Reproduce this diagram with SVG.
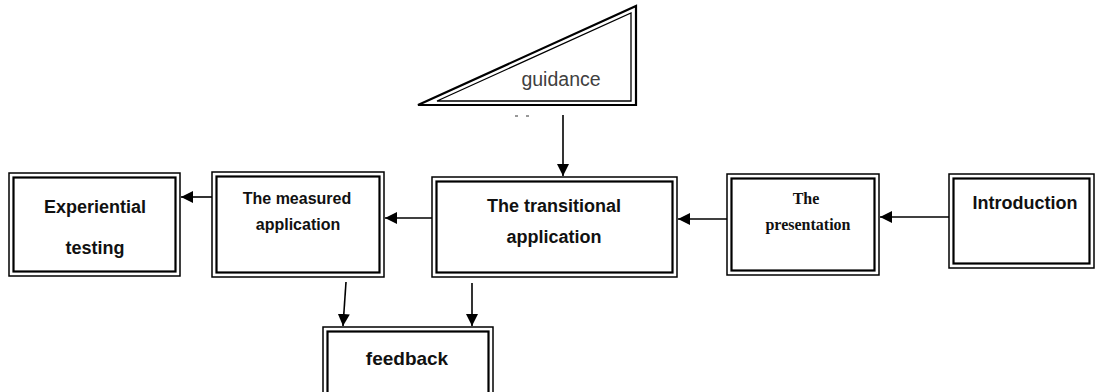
<svg xmlns="http://www.w3.org/2000/svg" width="1096" height="392" viewBox="0 0 1096 392">
  <style>
    .outer { fill: none; stroke: #000; stroke-width: 1.5; }
    .inner { fill: none; stroke: #000; stroke-width: 2.2; }
    .tri-outer { fill: none; stroke: #000; stroke-width: 2.2; stroke-linejoin: miter; }
    .tri-inner { fill: none; stroke: #000; stroke-width: 1.3; stroke-linejoin: miter; }
    .label { font-family: "Liberation Sans", Arial, sans-serif; font-weight: bold; fill: #111; text-anchor: middle; }
    .serif { font-family: "Liberation Serif", "Times New Roman", serif; font-weight: bold; fill: #111; text-anchor: middle; }
    .plain { font-family: "Liberation Sans", Arial, sans-serif; fill: #404040; text-anchor: middle; }
    .conn { stroke: #000; stroke-width: 1.6; fill: none; marker-end: url(#arrow); }
  </style>
  <defs>
    <marker id="arrow" markerUnits="userSpaceOnUse" markerWidth="14" markerHeight="12" refX="12" refY="6" orient="auto">
      <path d="M0,0 L12,6 L0,12 Z" fill="#000"/>
    </marker>
  </defs>
  <rect width="1096" height="392" fill="#fff"/>

  <!-- guidance wedge -->
  <g id="guidance">
    <polygon class="tri-outer" points="418,105 636,6 636,105"/>
    <polygon class="tri-inner" points="437,101 631,13 631,101"/>
    <text class="plain" x="561" y="86" font-size="19.5">guidance</text>
    <path d="M515,116 h3 M526,116 h3" stroke="#333" stroke-width="1"/>
  </g>

  <g id="experiential">
    <rect class="outer" x="9" y="173" width="171" height="103"/>
    <rect class="inner" x="13.5" y="177.5" width="162" height="94"/>
    <text class="label" x="95" y="213" font-size="18">Experiential</text>
    <text class="label" x="95" y="254" font-size="18">testing</text>
  </g>

  <g id="measured">
    <rect class="outer" x="212" y="172" width="172" height="105"/>
    <rect class="inner" x="216.5" y="176.5" width="163" height="96"/>
    <text class="label" x="297" y="204" font-size="16">The measured</text>
    <text class="label" x="298" y="230" font-size="16">application</text>
  </g>

  <g id="transitional">
    <rect class="outer" x="432" y="177" width="245" height="100"/>
    <rect class="inner" x="436.5" y="181.5" width="236" height="91"/>
    <text class="label" x="554" y="212" font-size="18">The transitional</text>
    <text class="label" x="554" y="243" font-size="18">application</text>
  </g>

  <g id="presentation">
    <rect class="outer" x="727" y="174" width="152" height="101"/>
    <rect class="inner" x="731.5" y="178.5" width="143" height="92"/>
    <text class="serif" x="806" y="204" font-size="16">The</text>
    <text class="serif" x="808" y="230" font-size="16">presentation</text>
  </g>

  <g id="introduction">
    <rect class="outer" x="949" y="174" width="145" height="94"/>
    <rect class="inner" x="953.5" y="178.5" width="136" height="85"/>
    <text class="label" x="1025" y="209" font-size="18">Introduction</text>
  </g>

  <g id="feedback">
    <rect class="outer" x="323" y="327" width="170" height="72"/>
    <rect class="inner" x="327.5" y="331.5" width="161" height="63"/>
    <text class="label" x="407" y="365" font-size="19">feedback</text>
  </g>

  <g id="connectors">
    <line class="conn" x1="563" y1="115" x2="563" y2="176"/>
    <line class="conn" x1="949" y1="217" x2="880" y2="217"/>
    <line class="conn" x1="727" y1="219" x2="678" y2="219"/>
    <line class="conn" x1="432" y1="218" x2="385" y2="218"/>
    <line class="conn" x1="212" y1="197" x2="181" y2="197"/>
    <line class="conn" x1="346" y1="282" x2="343" y2="326"/>
    <line class="conn" x1="472" y1="283" x2="472" y2="326"/>
  </g>
</svg>
